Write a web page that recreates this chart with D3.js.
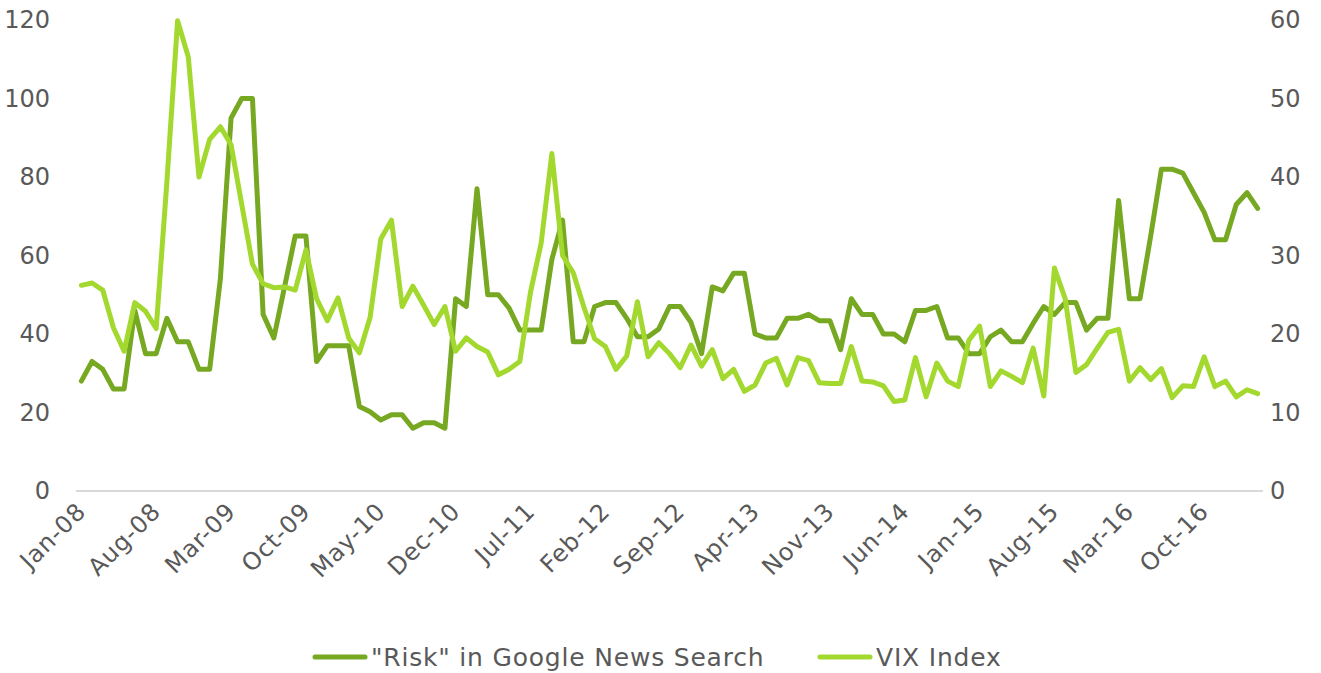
<!DOCTYPE html>
<html>
<head>
<meta charset="utf-8">
<script src="https://cdn.jsdelivr.net/npm/d3@7"></script>
<style>
  html, body { margin: 0; padding: 0; background: #fff; }
  svg { display: block; font-family: "DejaVu Sans", Verdana, sans-serif; }
</style>
</head>
<body>
<svg id="chart" width="1321" height="673"></svg>
<script>
// Monthly categories, Jan-2008 through Mar-2017
const months = d3.timeMonth.range(new Date(2008, 0, 1), new Date(2017, 3, 1));
const monthFormat = d3.timeFormat("%b-%y");

// "Risk" in Google News Search (left axis)
const riskSearch = [
  28, 33, 31, 26, 26, 46, 35, 35, 44, 38, 38, 31,
  31, 54, 95, 100, 100, 45, 39, 52, 65, 65, 33, 37,
  37, 37, 21.5, 20.2, 18.1, 19.4, 19.4, 16, 17.4, 17.4, 16, 49,
  47, 77, 50, 50, 46.6, 41, 41, 41, 59, 69, 38, 38,
  47, 48, 48, 44, 39.3, 39.3, 41.3, 47, 47, 43, 35, 52,
  51, 55.5, 55.5, 40, 39, 39, 44, 44, 45, 43.4, 43.4, 36,
  49, 45, 45, 40, 40, 38, 46, 46, 47, 39, 39, 35,
  35, 39.3, 41, 38, 38, 42.7, 47, 45, 48, 48, 41, 44,
  44, 74, 49, 49, 65, 82, 82, 81, 76, 71, 64, 64,
  73, 76, 72
];

// VIX Index (right axis)
const vixIndex = [
  26.2, 26.5, 25.6, 20.8, 17.8, 24.0, 22.9, 20.7, 39.4, 59.9, 55.3, 40.0,
  44.8, 46.4, 44.1, 36.5, 28.9, 26.4, 25.9, 26.0, 25.6, 30.7, 24.5, 21.7,
  24.6, 19.5, 17.6, 22.1, 32.1, 34.5, 23.5, 26.1, 23.7, 21.2, 23.5, 17.8,
  19.5, 18.4, 17.7, 14.8, 15.5, 16.5, 25.3, 31.6, 43.0, 30.0, 27.8, 23.4,
  19.4, 18.4, 15.5, 17.2, 24.1, 17.1, 18.9, 17.5, 15.7, 18.6, 15.9, 18.0,
  14.3, 15.5, 12.7, 13.5, 16.3, 16.9, 13.5, 17.0, 16.6, 13.8, 13.7, 13.7,
  18.4, 14.0, 13.9, 13.4, 11.4, 11.6, 17.0, 12.0, 16.3, 14.0, 13.3, 19.2,
  21.0, 13.3, 15.3, 14.6, 13.8, 18.2, 12.1, 28.4, 24.5, 15.1, 16.1, 18.2,
  20.2, 20.6, 14.0, 15.7, 14.2, 15.6, 11.9, 13.4, 13.3, 17.1, 13.3, 14.0,
  12.0, 12.9, 12.4
];

const leftTicks = [0, 20, 40, 60, 80, 100, 120];
const rightTicks = [0, 10, 20, 30, 40, 50, 60];
const seriesNames = ['"Risk" in Google News Search', "VIX Index"];
const seriesColors = ["#77a822", "#a3d82f"];

const svg = d3.select("#chart");
const plot = { left: 76, right: 1263, top: 20, bottom: 491 };
const textColor = "#595959";

const x = d3.scaleBand()
  .domain(d3.range(months.length))
  .range([plot.left, plot.right])
  .padding(0);
const cx = i => x(i) + x.bandwidth() / 2;

const yLeft = d3.scaleLinear().domain([0, 120]).range([plot.bottom, plot.top]);
const yRight = d3.scaleLinear().domain([0, 60]).range([plot.bottom, plot.top]);

// Left value axis
const leftAxis = svg.append("g")
  .attr("transform", `translate(${plot.left - 26},0)`)
  .call(d3.axisLeft(yLeft).tickValues(leftTicks).tickSize(0).tickPadding(0));
// Right value axis
const rightAxis = svg.append("g")
  .attr("transform", `translate(${plot.right + 7},0)`)
  .call(d3.axisRight(yRight).tickValues(rightTicks).tickSize(0).tickPadding(0));
[leftAxis, rightAxis].forEach(g => {
  g.select(".domain").remove();
  g.selectAll("text")
    .attr("fill", textColor)
    .style("font-size", "24px")
    .style("font-family", '"DejaVu Sans", Verdana, sans-serif');
});

// Category axis baseline
svg.append("line")
  .attr("x1", plot.left).attr("x2", plot.right)
  .attr("y1", yLeft(0)).attr("y2", yLeft(0))
  .attr("stroke", "#d9d9d9").attr("stroke-width", 2);

// Category labels every 7 months, rotated
const labelIdx = d3.range(0, months.length, 7).filter(i => i <= 105);
svg.append("g").selectAll("text")
  .data(labelIdx)
  .join("text")
  .attr("transform", i => `translate(${cx(i) + 6},${plot.bottom + 22}) rotate(-45)`)
  .attr("text-anchor", "end")
  .attr("fill", textColor)
  .style("font-size", "24px")
  .style("letter-spacing", "0.8px")
  .text(i => monthFormat(months[i]));

// Series lines
const lineLeft = d3.line().x((d, i) => cx(i)).y(d => yLeft(d));
const lineRight = d3.line().x((d, i) => cx(i)).y(d => yRight(d));

svg.append("path")
  .datum(riskSearch)
  .attr("d", lineLeft)
  .attr("fill", "none")
  .attr("stroke", seriesColors[0])
  .attr("stroke-width", 5)
  .attr("stroke-linejoin", "round")
  .attr("stroke-linecap", "round");

svg.append("path")
  .datum(vixIndex)
  .attr("d", lineRight)
  .attr("fill", "none")
  .attr("stroke", seriesColors[1])
  .attr("stroke-width", 5)
  .attr("stroke-linejoin", "round")
  .attr("stroke-linecap", "round");

// Legend
const legendStarts = [313, 818];
const legend = svg.append("g");
seriesNames.forEach((name, k) => {
  const g = legend.append("g").attr("transform", `translate(${legendStarts[k]},657)`);
  g.append("line")
    .attr("x1", 2).attr("x2", 52)
    .attr("y1", 0).attr("y2", 0)
    .attr("stroke", seriesColors[k])
    .attr("stroke-width", 5)
    .attr("stroke-linecap", "round");
  g.append("text")
    .attr("x", 58).attr("y", 9)
    .attr("fill", textColor)
    .style("font-size", "25px")
    .style("letter-spacing", "0.8px")
    .text(name);
});
</script>
</body>
</html>
